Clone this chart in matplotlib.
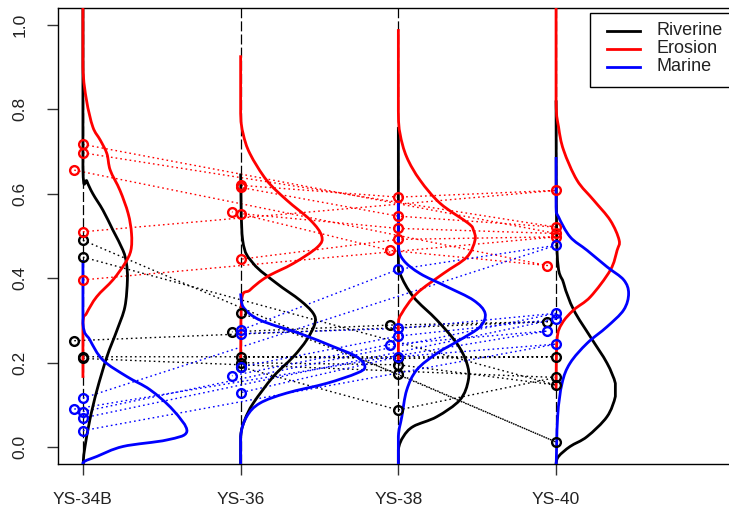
import matplotlib
matplotlib.use("Agg")
import matplotlib.pyplot as plt
from matplotlib.lines import Line2D
from matplotlib.patches import Rectangle, PathPatch
from matplotlib.path import Path

plt.rcParams['font.family'] = ['Liberation Sans', 'DejaVu Sans']

site_labels = ["YS-34B", "YS-36", "YS-38", "YS-40"]
site_pos = [1, 2, 3, 4]
source_names = ["Riverine", "Erosion", "Marine"]
source_colors = ["#000000", "#ff0000", "#0000ff"]

# Sample proportions at each site (rows: sites, columns: samples A-E);
# sample C is drawn just left of the site line
riverine_samples = [
    [0.490, 0.450, 0.252, 0.214, 0.210],
    [0.318, 0.200, 0.273, 0.214, 0.190],
    [0.173, 0.195, 0.289, 0.210, 0.088],
    [0.012, 0.147, 0.297, 0.214, 0.165],
]
erosion_samples = [
    [0.717, 0.697, 0.656, 0.510, 0.396],
    [0.553, 0.615, 0.557, 0.620, 0.445],
    [0.518, 0.547, 0.466, 0.592, 0.492],
    [0.506, 0.521, 0.430, 0.608, 0.498],
]
marine_samples = [
    [0.116, 0.084, 0.090, 0.069, 0.039],
    [0.277, 0.269, 0.169, 0.190, 0.129],
    [0.421, 0.281, 0.243, 0.263, 0.214],
    [0.478, 0.317, 0.275, 0.303, 0.244],
]
# order in which each sample's sites are linked: YS-34B -> YS-40 -> YS-38 -> YS-36
link_order = [0, 3, 2, 1]

# Posterior density of each source at each site: proportion grid and curve width
riverine_dens_y = [
    [-0.06, -0.03, 0.001, 0.065, 0.135, 0.214, 0.277, 0.332, 0.396, 0.435, 0.466, 0.514, 0.561, 0.600, 0.630, 0.662, 1.06],
    [-0.06, 0.025, 0.065, 0.104, 0.167, 0.214, 0.254, 0.293, 0.317, 0.348, 0.388, 0.435, 0.490, 0.648],
    [-0.06, -0.006, 0.025, 0.049, 0.072, 0.112, 0.159, 0.199, 0.246, 0.301, 0.356, 0.411, 0.450, 0.758],
    [-0.06, -0.04, -0.022, 0.0015, 0.025, 0.072, 0.120, 0.151, 0.199, 0.261, 0.325, 0.388, 0.466, 0.821],
]
riverine_dens_w = [
    [0, 0.003, 0.013, 0.044, 0.089, 0.152, 0.216, 0.266, 0.282, 0.276, 0.254, 0.190, 0.127, 0.063, 0.025, 0, 0],
    [0, 0, 0.027, 0.080, 0.207, 0.334, 0.419, 0.471, 0.460, 0.376, 0.228, 0.080, 0.013, 0],
    [0, 0, 0.032, 0.095, 0.244, 0.391, 0.444, 0.434, 0.370, 0.244, 0.095, 0.011, 0, 0],
    [0, 0, 0.016, 0.089, 0.197, 0.323, 0.376, 0.376, 0.323, 0.218, 0.112, 0.048, 0.006, 0],
]
erosion_dens_y = [
    [0.164, 0.293, 0.317, 0.356, 0.396, 0.435, 0.466, 0.506, 0.553, 0.608, 0.656, 0.695, 0.727, 0.758, 0.821, 0.900, 1.06],
    [0.200, 0.348, 0.372, 0.403, 0.435, 0.474, 0.500, 0.537, 0.585, 0.632, 0.695, 0.742, 0.790, 0.928],
    [0.199, 0.290, 0.317, 0.364, 0.411, 0.450, 0.490, 0.514, 0.530, 0.577, 0.632, 0.687, 0.742, 0.797, 0.990],
    [0.135, 0.254, 0.293, 0.325, 0.356, 0.419, 0.466, 0.490, 0.537, 0.585, 0.632, 0.703, 0.758, 0.821, 1.06],
]
erosion_dens_w = [
    [0, 0, 0.023, 0.087, 0.190, 0.266, 0.304, 0.308, 0.287, 0.235, 0.173, 0.152, 0.110, 0.063, 0.023, 0, 0],
    [0, 0.006, 0.059, 0.165, 0.334, 0.488, 0.514, 0.444, 0.292, 0.165, 0.059, 0.016, 0, 0],
    [0, 0, 0.022, 0.117, 0.285, 0.434, 0.486, 0.476, 0.444, 0.266, 0.138, 0.053, 0.011, 0, 0],
    [0, 0.006, 0.038, 0.112, 0.218, 0.344, 0.387, 0.400, 0.344, 0.238, 0.133, 0.048, 0.016, 0, 0],
]
marine_dens_y = [
    [-0.06, -0.037, -0.022, 0.0015, 0.017, 0.037, 0.088, 0.136, 0.167, 0.206, 0.254, 0.293, 0.443],
    [-0.06, 0.025, 0.072, 0.104, 0.128, 0.151, 0.175, 0.190, 0.214, 0.238, 0.269, 0.301, 0.332, 0.364],
    [-0.06, 0.025, 0.072, 0.135, 0.183, 0.222, 0.254, 0.285, 0.317, 0.348, 0.380, 0.411, 0.443, 0.480, 0.585],
    [-0.06, 0.072, 0.151, 0.199, 0.246, 0.285, 0.325, 0.364, 0.396, 0.427, 0.466, 0.498, 0.545, 0.569, 0.687],
]
marine_dens_w = [
    [0, 0, 0.089, 0.254, 0.533, 0.659, 0.571, 0.425, 0.279, 0.127, 0.044, 0, 0],
    [0, 0, 0.038, 0.122, 0.292, 0.545, 0.736, 0.788, 0.736, 0.587, 0.376, 0.122, 0.016, 0],
    [0, 0, 0.022, 0.053, 0.117, 0.244, 0.391, 0.518, 0.550, 0.476, 0.307, 0.138, 0.032, 0, 0],
    [0, 0.010, 0.038, 0.089, 0.197, 0.323, 0.429, 0.460, 0.429, 0.323, 0.197, 0.089, 0.016, 0, 0],
]

samples = [riverine_samples, erosion_samples, marine_samples]
dens_y = [riverine_dens_y, erosion_dens_y, marine_dens_y]
dens_w = [riverine_dens_w, erosion_dens_w, marine_dens_w]


def curve_path(xs, ys):
    """Smooth cubic path through the density points; runs along the site line stay straight."""
    pts = list(zip(xs, ys))
    n = len(pts)
    verts, codes = [pts[0]], [Path.MOVETO]
    for i in range(n - 1):
        p0 = pts[i - 1] if i > 0 else pts[i]
        p1, p2 = pts[i], pts[i + 1]
        p3 = pts[i + 2] if i + 2 < n else pts[i + 1]
        if p1[0] == p2[0]:
            verts.append(p2)
            codes.append(Path.LINETO)
            continue
        c1 = (p1[0] + (p2[0] - p0[0]) / 6, p1[1] + (p2[1] - p0[1]) / 6)
        c2 = (p2[0] - (p3[0] - p1[0]) / 6, p2[1] - (p3[1] - p1[1]) / 6)
        c1 = (max(c1[0], min(p1[0], p2[0])), c1[1])
        c2 = (max(c2[0], min(p1[0], p2[0])), c2[1])
        verts += [c1, c2, p2]
        codes += [Path.CURVE4] * 3
    return Path(verts, codes)


W, H = 729, 517
fig = plt.figure(figsize=(W / 100, H / 100), dpi=100)
ax = fig.add_axes([57.7 / W, 53 / H, 681.3 / W, 456 / H])
ax.set_xlim(0.84, 5.16)
ax.set_ylim(-0.04, 1.04)

# dashed guide at each site
for p in site_pos:
    ax.axvline(p, color="black", lw=0.9, ls=(0, (8, 2.5)), zorder=1)

# density curves hang off each site line
for ys, ws, col in zip(dens_y, dens_w, source_colors):
    for p, y, w in zip(site_pos, ys, ws):
        path = curve_path([p + v for v in w], y)
        ax.add_patch(PathPatch(path, fill=False, edgecolor=col, lw=2.0, zorder=3,
                               joinstyle="round", capstyle="butt"))

shift = 0.055
def sample_x(p, i):
    return p - shift if i == 2 else p

# dotted links following each sample from site to site
for smp, col in zip(samples, source_colors):
    for i in range(len(smp[0])):
        xs = [sample_x(site_pos[s], i) for s in link_order]
        ys = [smp[s][i] for s in link_order]
        ax.plot(xs, ys, color=col, lw=1.0, ls=(0, (1.2, 2.2)), zorder=2)

# sample points
for smp, col in zip(samples, source_colors):
    for p, vals in zip(site_pos, smp):
        xs = [sample_x(p, i) for i in range(len(vals))]
        ax.plot(xs, vals, ls="none", marker="o", ms=6.3, mfc="none", mec=col, mew=1.7, zorder=4)

ax.set_xticks(site_pos, site_labels)
ax.set_yticks([0, 0.2, 0.4, 0.6, 0.8, 1.0], ["0.0", "0.2", "0.4", "0.6", "0.8", "1.0"])
ax.tick_params(axis="both", labelsize=12.5, length=8, width=1.0, color="#333333", labelcolor="#222222")
ax.tick_params(axis="x", pad=12)
ax.tick_params(axis="y", pad=13.5, labelrotation=90)
for lab in ax.get_yticklabels():
    lab.set_va("center")
for s in ax.spines.values():
    s.set_linewidth(1.0)

# legend box
def fx(x):
    return x / W
def fy(y):
    return 1 - y / H
fig.patches.append(Rectangle((fx(590), fy(86.7)), fx(734) - fx(590), fy(12.7) - fy(86.7),
                             transform=fig.transFigure, fill=True, facecolor="white",
                             edgecolor="black", lw=1.0, zorder=10))
for k, (name, col) in enumerate(zip(source_names, source_colors)):
    yy = 30.7 + 18 * k
    fig.lines.append(Line2D([fx(607), fx(640)], [fy(yy), fy(yy)], transform=fig.transFigure,
                            color=col, lw=2.0, zorder=11))
    fig.text(fx(656), fy(yy), name, fontsize=13, va="center", ha="left", color="#222222", zorder=11)

fig.savefig("out.png", dpi=100)
